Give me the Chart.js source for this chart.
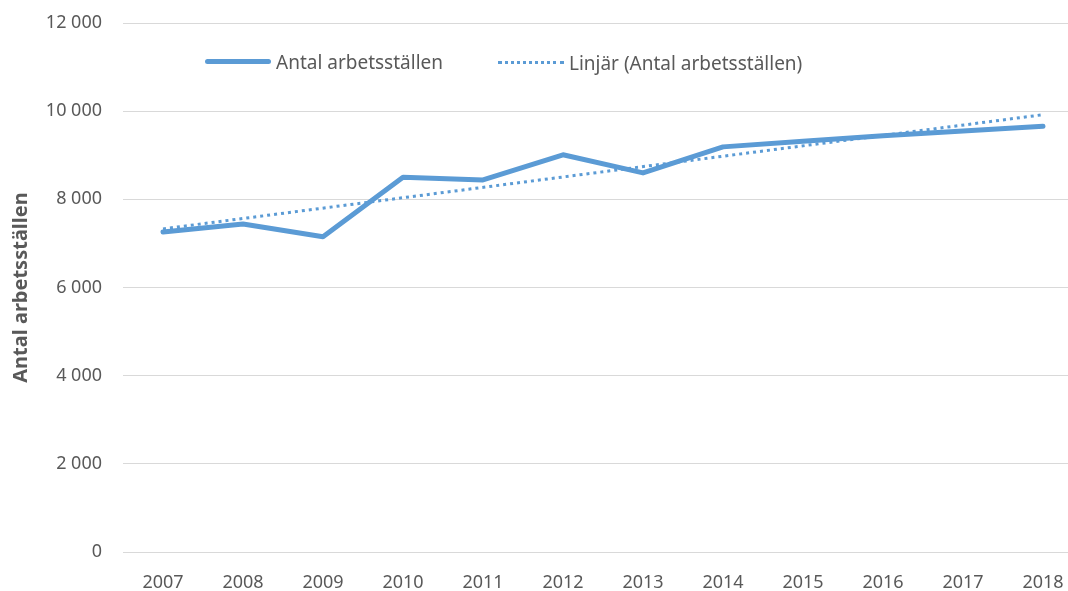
<!DOCTYPE html>
<html>
<head>
<meta charset="utf-8">
<script src="https://cdn.jsdelivr.net/npm/chart.js@4/dist/chart.umd.min.js"></script>
<style>
    body { margin: 0; background: #fff; overflow: hidden; }
    #wrap { position: relative; width: 1085px; height: 591px; }
    #legend { position: absolute; top: 44px; left: 205px; font-family: "Noto Sans", sans-serif; font-size: 19px; color: #595959; white-space: nowrap; }
    #legend span.item { display: inline-flex; align-items: center; margin-right: 50px; }
    #legend i { display: inline-block; width: 66px; margin-right: 5px; }
    #legend i.solid { border-top: 5px solid #5b9bd5; border-radius: 3px; }
    #legend i.dot { border-top: 3px dotted #5b9bd5; }
</style>
</head>
<body>
<div id="wrap">
    <canvas id="chart" width="1085" height="591"></canvas>
    <div id="legend">
        <span class="item"><i class="solid"></i>Antal arbetsställen</span>
        <span class="item"><i class="dot"></i>Linjär (Antal arbetsställen)</span>
    </div>
</div>
<script>
const years = ["2007", "2008", "2009", "2010", "2011", "2012", "2013", "2014", "2015", "2016", "2017", "2018"];
const workplaces = [7260, 7440, 7150, 8500, 8440, 9010, 8600, 9190, 9320, 9440, 9550, 9660];
// trend line ends
const trendLine = [7330, null, null, null, null, null, null, null, null, null, null, 9920];
const yTicks = [0, 2000, 4000, 6000, 8000, 10000, 12000];

const grey = '#595959';
const blue = '#5b9bd5';

function fmt(v) {
    return String(v).replace(/\B(?=(\d{3})+(?!\d))/g, ' ');
}

const ctx = document.getElementById('chart').getContext('2d');
const chart = new Chart(ctx, {
    type: 'line',
    data: {
        labels: years,
        datasets: [{
            label: 'Antal arbetsställen',
            data: workplaces,
            borderColor: blue,
            borderWidth: 5,
            pointRadius: 0,
            borderCapStyle: 'round',
            borderJoinStyle: 'round',
            tension: 0
        }, {
            label: 'Linjär (Antal arbetsställen)',
            data: trendLine,
            borderColor: blue,
            borderWidth: 3,
            borderDash: [3, 4],
            pointRadius: 0,
            spanGaps: true
        }]
    },
    options: {
        responsive: false,
        animation: false,
        layout: { padding: { top: 23, right: 2, left: 0, bottom: 0 } },
        plugins: {
            legend: { display: false },
            tooltip: { enabled: false }
        },
        scales: {
            x: {
                offset: true,
                grid: { display: false },
                border: { color: '#d9d9d9', width: 1 },
                ticks: { color: grey, font: { family: 'Noto Sans', size: 18 }, padding: 12, maxRotation: 0 },
                afterFit: s => { s.height = 39; }
            },
            y: {
                min: 0,
                max: 12000,
                afterBuildTicks: s => { s.ticks = yTicks.map(v => ({ value: v })); },
                grid: { color: '#d9d9d9', drawTicks: false },
                border: { display: false },
                ticks: { color: grey, font: { family: 'Noto Sans', size: 18 }, padding: 21, callback: v => fmt(v) },
                title: {
                    display: true,
                    text: 'Antal arbetsställen',
                    color: grey,
                    font: { family: 'Noto Sans', size: 20, weight: 'bold' },
                    padding: { top: 9, bottom: 0 }
                },
                afterFit: s => {
                    s.width = 123;
                    s.paddingTop = 0;
                    s.paddingBottom = 0;
                }
            }
        }
    }
});
</script>
</body>
</html>
